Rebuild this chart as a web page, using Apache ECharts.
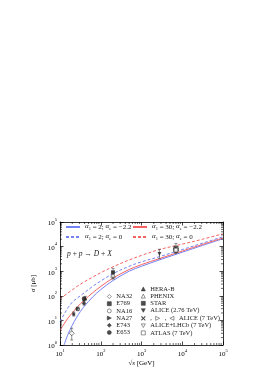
<!DOCTYPE html>
<html><head><meta charset="utf-8">
<script src="https://cdn.jsdelivr.net/npm/echarts@6/dist/echarts.min.js"></script>
<style>html,body{margin:0;padding:0;background:#fff}#c{width:275px;height:390px}</style>
</head><body><div id="c"></div>
<script>
// ---- data ----
const sqrtS        = [10, 12.6, 15.8, 20, 25.1, 31.6, 39.8, 63.1, 100, 200, 500, 1000, 2760, 10000, 31600, 100000];
const sigBlueSolid = [null, 1.0, 2.8, 6.3, 12.6, 22.9, 38, 89, 178, 417, 1000, 1585, 2880, 5900, 11200, 20900];
const sigRedSolid  = [4.0, 7.2, 12.6, 20, 31.6, 47, 67.6, 132, 240, 525, 1175, 1860, 3240, 6600, 12300, 22400];
const sigBlueDash  = [8.9, 17.8, 33, 55, 76, 100, 135, 240, 400, 794, 1585, 2400, 3900, 7600, 13800, 25100];
const sigRedDash   = [76, 100, 132, 174, 229, 295, 372, 575, 870, 1510, 2880, 4370, 7600, 12600, 20000, 33100];

const ptNames  = ['NA32','E769','NA16','NA27','E743','E653','HERA-B','PHENIX','STAR','ALICE (2.76 TeV)','ALICE7x','ALICE7r','ALICE (7 TeV)','ALICE+LHCb (7 TeV)','ATLAS (7 TeV)'];
const ptSqrtS  = [19.4, 21.7, 27.4, 27.4, 38.8, 38.8, 41.6, 200, 200, 2760, 7000, 7000, 7000, 7000, 7000];
const ptSigma  = [3.0, 18, 29, 30, 50, 75, 80, 700, 900, 5000, 8500, 7800, 8100, 7000, 7200];
const ptErrLo  = [1.6, 15, 25, 26, 42, 63, 68, 480, 500, 3200, 5300, 6000, 6000, 5600, 6000];
const ptErrHi  = [4.8, 22, 33, 35, 60, 88, 95, 950, 1300, 7800, 13500, 10000, 10500, 8600, 8500];

// ---- styles ----
const F = 'Liberation Serif';
const BLUE = '#7483f3', RED = '#f56262';
const DOWN = 'path://M0,0L10,0L5,9Z';
const symDef = {
  'NA32': {symbol:'diamond', open:true, size:5},
  'E769': {symbol:'rect', open:false, size:3},
  'NA16': {symbol:'circle', open:true, size:3.5},
  'NA27': {symbol:'path://M0,0L10,5L0,10Z', open:false, size:4},
  'E743': {symbol:'diamond', open:false, size:4.5},
  'E653': {symbol:'circle', open:false, size:4.5},
  'HERA-B': {symbol:'triangle', open:false, size:4},
  'PHENIX': {symbol:'triangle', open:true, size:4.5},
  'STAR': {symbol:'rect', open:false, size:4},
  'ALICE (2.76 TeV)': {symbol:DOWN, open:false, size:4},
  'ALICE7x': {symbol:'path://M0,1L1,0L5,4L9,0L10,1L6,5L10,9L9,10L5,6L1,10L0,9L4,5Z', open:false, size:5},
  'ALICE7r': {symbol:'path://M0,0L10,5L0,10Z', open:true, size:4.5},
  'ALICE (7 TeV)': {symbol:'path://M10,0L0,5L10,10Z', open:true, size:4.5},
  'ALICE+LHCb (7 TeV)': {symbol:DOWN, open:true, size:4.5},
  'ATLAS (7 TeV)': {symbol:'rect', open:true, size:4}
};

const chart = echarts.init(document.getElementById('c'), null, {renderer:'canvas'});

const supFmt = v => '{b|10}{e|' + Math.round(Math.log10(v)) + '}';
const supRich = {
  b:{fontSize:7, fontFamily:F, color:'#000', verticalAlign:'bottom', lineHeight:10},
  e:{fontSize:4.5, fontFamily:F, color:'#000', verticalAlign:'top', lineHeight:10}
};

const minorX = [], minorY = [];
for (let k = 1; k < 5; k++) for (let m = 2; m <= 9; m++) minorX.push([m * Math.pow(10, k), 1]);
for (let k = 0; k < 5; k++) for (let m = 2; m <= 9; m++) minorY.push([10, m * Math.pow(10, k)]);

const series = [];
function curve(name, arr, color, dashed) {
  series.push({
    name, type:'line', symbol:'none', smooth:0.35, clip:true, connectNulls:false,
    data: sqrtS.map((x, i) => [x, arr[i]]),
    lineStyle:{color, width:1, type: dashed ? [3, 2] : 'solid'},
    itemStyle:{color}, z:3
  });
}
curve('bs', sigBlueSolid, BLUE, false);
curve('bd', sigBlueDash, BLUE, true);
curve('rs', sigRedSolid, RED, false);
curve('rd', sigRedDash, RED, true);

// error bars
series.push({
  type:'custom', name:'err', z:4, silent:true,
  data: ptSqrtS.map((x, i) => [x, ptErrLo[i], ptErrHi[i]]),
  renderItem: (params, api) => {
    const lo = api.coord([api.value(0), api.value(1)]);
    const hi = api.coord([api.value(0), api.value(2)]);
    const st = {stroke:'#444', lineWidth:0.6};
    return {type:'group', children:[
      {type:'line', shape:{x1:lo[0], y1:lo[1], x2:hi[0], y2:hi[1]}, style:st},
      {type:'line', shape:{x1:lo[0]-1.5, y1:lo[1], x2:lo[0]+1.5, y2:lo[1]}, style:st},
      {type:'line', shape:{x1:hi[0]-1.5, y1:hi[1], x2:hi[0]+1.5, y2:hi[1]}, style:st}
    ]};
  }
});

ptNames.forEach((n, i) => {
  const d = symDef[n];
  series.push({
    name:n, type:'scatter', z:5,
    symbol:d.symbol, symbolSize:d.size,
    data:[[ptSqrtS[i], ptSigma[i]]],
    itemStyle: d.open ? {color:'#fff', borderColor:'#222', borderWidth:0.7} : {color:'#222', borderColor:'#222', borderWidth:0}
  });
});

// minor ticks
series.push({
  type:'custom', name:'mx', silent:true, z:6, clip:false,
  data: minorX,
  renderItem: (p, api) => {
    const b = api.coord([api.value(0), 1]);
    const t = api.coord([api.value(0), 100000]);
    const st = {stroke:'#000', lineWidth:0.6};
    return {type:'group', children:[
      {type:'line', shape:{x1:b[0], y1:b[1], x2:b[0], y2:b[1]-2}, style:st},
      {type:'line', shape:{x1:t[0], y1:t[1], x2:t[0], y2:t[1]+2}, style:st}
    ]};
  }
});
series.push({
  type:'custom', name:'my', silent:true, z:6, clip:false,
  data: minorY,
  renderItem: (p, api) => {
    const l = api.coord([10, api.value(1)]);
    const r = api.coord([100000, api.value(1)]);
    const st = {stroke:'#000', lineWidth:0.6};
    return {type:'group', children:[
      {type:'line', shape:{x1:l[0], y1:l[1], x2:l[0]+2, y2:l[1]}, style:st},
      {type:'line', shape:{x1:r[0], y1:r[1], x2:r[0]-2, y2:r[1]}, style:st}
    ]};
  }
});

const curveFmt = {
  bs:'{i|α}{s|1} = 2; {i|α}{s|e} = −2.2',
  bd:'{i|α}{s|1} = 2; {i|α}{s|e} = 0',
  rs:'{i|α}{s|1} = 30; {i|α}{s|e} = −2.2',
  rd:'{i|α}{s|1} = 30; {i|α}{s|e} = 0'
};
const curveRich = {
  i:{fontStyle:'italic', fontSize:7, fontFamily:F, color:'#222', verticalAlign:'top', lineHeight:8},
  s:{fontSize:4.5, fontFamily:F, color:'#222', verticalAlign:'bottom', lineHeight:8}
};
const lgText = {fontSize:6.5, fontFamily:F, color:'#222', lineHeight:6};
const ptLg = {padding:0, itemWidth:4, itemHeight:4, itemGap:0.2, textStyle:lgText, selectedMode:false,
  itemStyle:{borderWidth:0.6}};

const axisLineSt = {show:true, lineStyle:{color:'#000', width:0.8}};

const option = {
  animation:false,
  backgroundColor:'#fff',
  grid:{left:60, right:52, top:222, bottom:45},
  xAxis:[{
    type:'log', logBase:10, min:10, max:100000,
    axisLine:axisLineSt,
    axisTick:{show:true, inside:true, length:3.5, lineStyle:{color:'#000', width:0.7}},
    axisLabel:{formatter:supFmt, rich:supRich, margin:3},
    splitLine:{show:false},
    name:'√{i|s} [GeV]', nameLocation:'middle', nameGap:15,
    nameTextStyle:{fontSize:7, fontFamily:F, color:'#000', rich:{i:{fontStyle:'italic', fontSize:7, fontFamily:F}}}
  },{
    type:'log', logBase:10, min:10, max:100000, position:'top',
    axisLine:axisLineSt,
    axisTick:{show:true, inside:true, length:3.5, lineStyle:{color:'#000', width:0.7}},
    axisLabel:{show:false}, splitLine:{show:false}
  }],
  yAxis:[{
    type:'log', logBase:10, min:1, max:100000,
    axisLine:axisLineSt,
    axisTick:{show:true, inside:true, length:3.5, lineStyle:{color:'#000', width:0.7}},
    axisLabel:{formatter:supFmt, rich:supRich, margin:3},
    splitLine:{show:false},
    name:'{i|σ} [μb]', nameLocation:'middle', nameGap:13, nameRotate:90,
    nameTextStyle:{fontSize:7, fontFamily:F, color:'#000', rich:{i:{fontStyle:'italic', fontSize:7, fontFamily:F}}}
  },{
    type:'log', logBase:10, min:1, max:100000, position:'right',
    axisLine:axisLineSt,
    axisTick:{show:true, inside:true, length:3.5, lineStyle:{color:'#000', width:0.7}},
    axisLabel:{show:false}, splitLine:{show:false}
  }],
  legend:[
    {data:['bs','bd'], orient:'vertical', left:65, top:223, padding:0, itemWidth:14, itemHeight:8, itemGap:2,
     selectedMode:false, itemStyle:{opacity:0, borderWidth:0},
     formatter:n => curveFmt[n], textStyle:{fontSize:7, fontFamily:F, color:'#222', lineHeight:8, rich:curveRich}},
    {data:['rs','rd'], orient:'vertical', left:132, top:223, padding:0, itemWidth:14, itemHeight:8, itemGap:2,
     selectedMode:false, itemStyle:{opacity:0, borderWidth:0},
     formatter:n => curveFmt[n], textStyle:{fontSize:7, fontFamily:F, color:'#222', lineHeight:8, rich:curveRich}},
    Object.assign({data:['NA32','E769','NA16','NA27','E743','E653'], orient:'vertical', left:107, top:293}, ptLg),
    Object.assign({data:['HERA-B','PHENIX','STAR','ALICE (2.76 TeV)'], orient:'vertical', left:141, top:285.4}, ptLg),
    Object.assign({data:['ALICE7x','ALICE7r','ALICE (7 TeV)'], orient:'horizontal', left:141, top:314.8},
      ptLg, {itemGap:3.4, formatter:n => n === 'ALICE (7 TeV)' ? n : ','}),
    Object.assign({data:['ALICE+LHCb (7 TeV)','ATLAS (7 TeV)'], orient:'vertical', left:141, top:322.2}, ptLg)
  ],
  graphic:[{
    type:'text', left:67, top:250,
    style:{text:'{i|p} + {i|p} → {i|D} + {i|X}', fontSize:7.5, fontFamily:F, fill:'#222',
      rich:{i:{fontStyle:'italic', fontSize:7.5, fontFamily:F}}}
  }],
  series
};
chart.setOption(option);
</script>
</body></html>
